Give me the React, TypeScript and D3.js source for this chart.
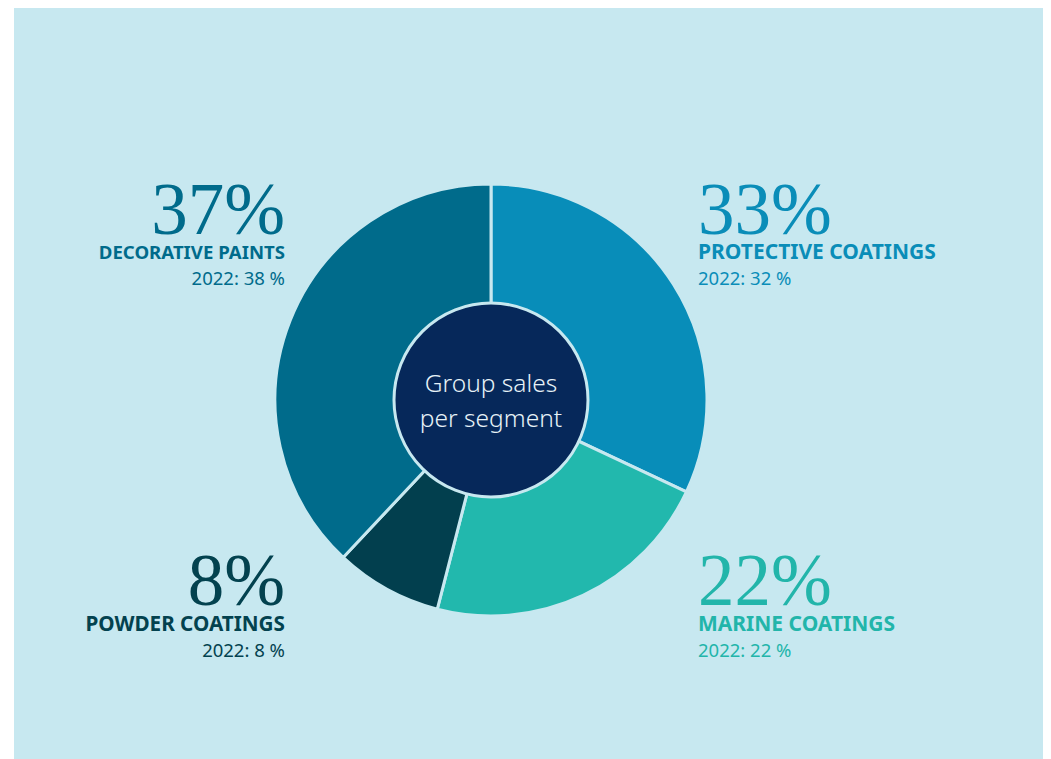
import React from "react";
import * as d3 from "d3";

const segments = ["PROTECTIVE COATINGS", "MARINE COATINGS", "POWDER COATINGS", "DECORATIVE PAINTS"];
const shares2023 = [33, 22, 8, 37];
const shares2022 = [32, 22, 8, 38];
// arc sizes as read from the drawn wedges
const arcValues = [32, 22, 8, 38];
const colors = ["#088db9", "#22b8ad", "#023f4e", "#006b8b"];
const textColors = ["#0a8db8", "#22b5aa", "#03424f", "#006b8b"];
const labelSizes = [21, 21, 20.7, 18.6];
const centerLines = ["Group sales", "per segment"];

const W = 1051;
const H = 759;
const cx = 491;
const cy = 400;
const outerR = 216;
const innerR = 97;
const bg = "#c7e8f0";

// label anchors: [x, baseline of big number, anchor]
const labelPos: [number, number, "start" | "end"][] = [
  [698, 234, "start"],
  [698, 605, "start"],
  [285, 605, "end"],
  [285, 234, "end"],
];

export default function App() {
  const pie = d3.pie<number>().sort(null).value((d) => d).startAngle(0).endAngle(2 * Math.PI);
  const arcs = pie(arcValues);
  const arc = d3.arc<d3.PieArcDatum<number>>().innerRadius(0).outerRadius(outerR);

  return (
    <svg width={W - 8} height={H - 8} style={{ display: "block" }}>
      <g transform="translate(-8,-8)">
        <rect x={14} y={8} width={W - 14} height={H - 8} fill={bg} />
        <g transform={`translate(${cx},${cy})`}>
          {arcs.map((a, i) => (
            <path key={i} d={arc(a) || ""} fill={colors[i]} stroke={bg} strokeWidth={3} strokeLinejoin="round" />
          ))}
          <circle r={innerR} fill="#06285a" stroke={bg} strokeWidth={3} />
          {centerLines.map((t, i) => (
            <text
              key={i}
              x={0}
              y={-8 + i * 35}
              textAnchor="middle"
              fill="#e6f2f7"
              fontFamily="'Noto Sans', sans-serif"
              fontWeight={300}
              fontSize={24.5}
            >
              {t}
            </text>
          ))}
        </g>
        {segments.map((s, i) => {
          const [x, y, anchor] = labelPos[i];
          const off = y > 400 ? 1 : 0;
          return (
            <g key={s} fill={textColors[i]} textAnchor={anchor}>
              <text x={x} y={y} fontFamily="'Liberation Serif', 'DejaVu Serif', serif" fontSize={73}>
                {shares2023[i]}%
              </text>
              <text x={x} y={y + 25 + off} fontFamily="'Noto Sans', sans-serif" fontWeight={700} fontSize={labelSizes[i]}>
                {s}
              </text>
              <text x={x} y={y + 51 + off} fontFamily="'Noto Sans', sans-serif" fontSize={18.5}>
                {`2022: ${shares2022[i]} %`}
              </text>
            </g>
          );
        })}
      </g>
    </svg>
  );
}
